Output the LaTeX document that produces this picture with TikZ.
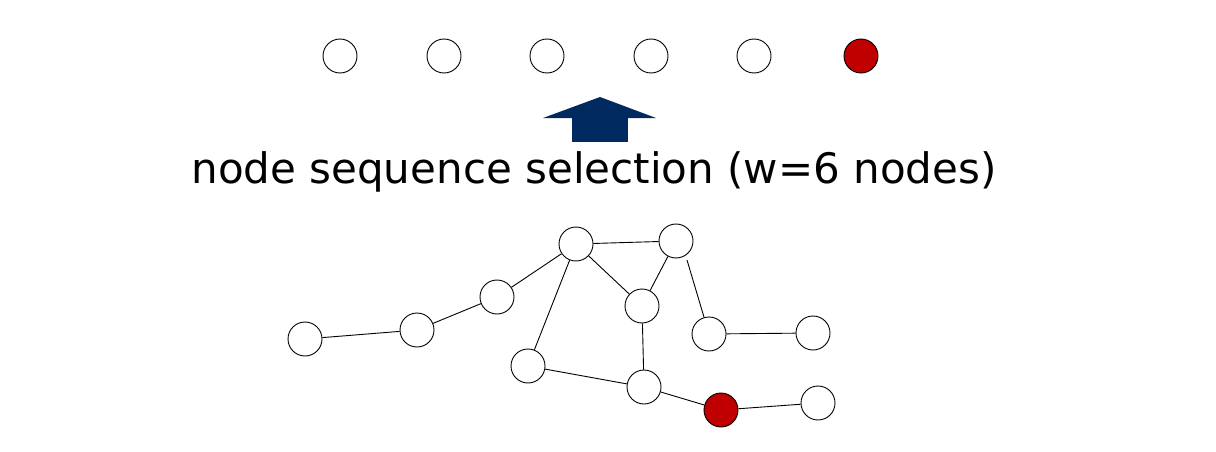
\documentclass[tikz,border=0pt]{standalone}
\usepackage{fontspec}
\setmainfont{DejaVu Sans}
\definecolor{nred}{RGB}{192,0,0}
\definecolor{navy}{RGB}{0,41,96}
\begin{document}
\begin{tikzpicture}[x=1pt,y=-1pt,
  n/.style={circle,draw,line width=0.9pt,fill=white,minimum size=34pt,inner sep=0pt},
  r/.style={n,fill=nred},
  e/.style={line width=0.9pt}]
\useasboundingbox (0,0) rectangle (1216,452);
\foreach \x/\nm in {340/t1,444/t2,547/t3,651/t4,754/t5}{\node[n] (\nm) at (\x,56) {};}
\node[r] (t6) at (861,56) {};
\fill[navy] (572,118) rectangle (628,142);
\fill[navy] (543,118) -- (600,97) -- (656,118) -- cycle;
\node[font=\fontsize{42}{50}\selectfont] (lbl) at (594,172) {node sequence selection (w=6 nodes)};
\node[n] (a) at (305,339) {};
\node[n] (b) at (417,330) {};
\node[n] (c) at (497,297) {};
\node[n] (d) at (576,244) {};
\node[n] (e) at (676,241) {};
\node[n] (f) at (642,306) {};
\node[n] (g) at (528,366) {};
\node[n] (h) at (644,387) {};
\node[n] (i) at (709,334) {};
\node[n] (j) at (813,333) {};
\node[r] (k) at (721,410) {};
\node[n] (l) at (818,403) {};
\coordinate (es) at (687,260);
\draw[e] (a)--(b) (b)--(c) (c)--(d) (d)--(e) (d)--(f) (e)--(f) (d)--(g) (g)--(h) (f)--(h) (h)--(k) (k)--(l) (i)--(j);
\draw[e] (es) -- (i);
\end{tikzpicture}
\end{document}
